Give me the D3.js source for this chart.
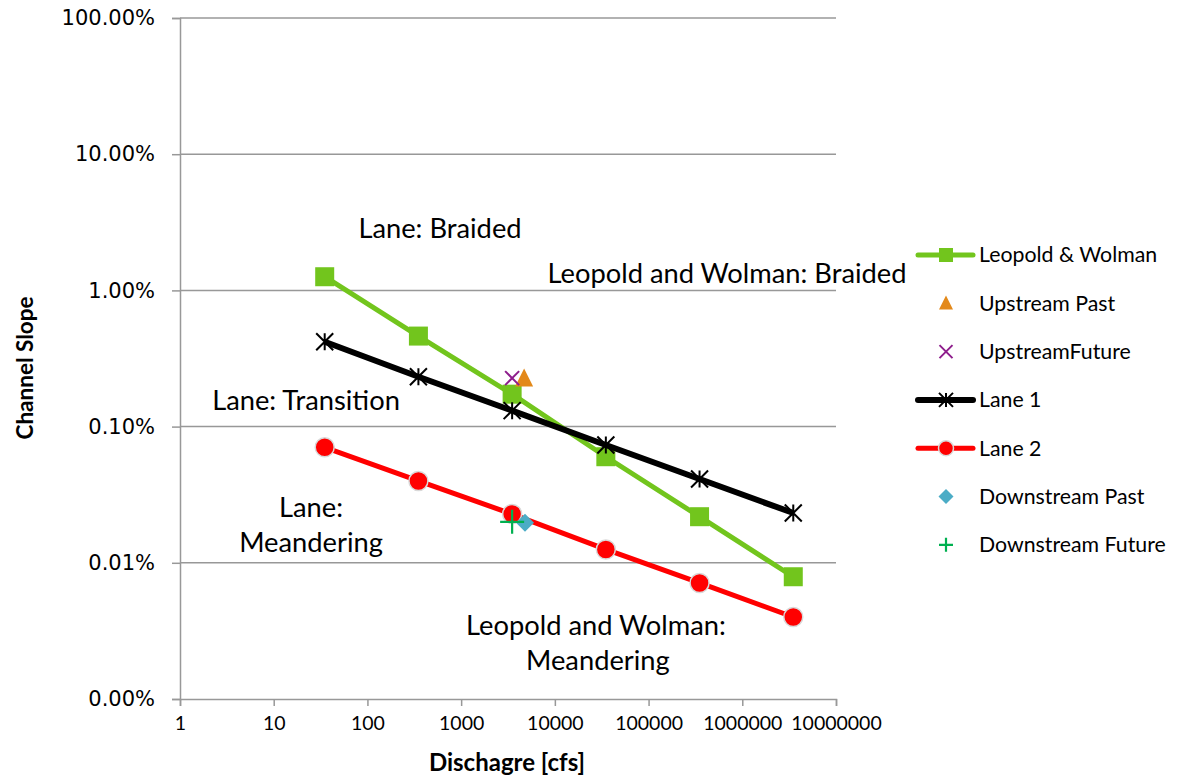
<!DOCTYPE html>
<html>
<head>
<meta charset="utf-8">
<script src="https://cdn.jsdelivr.net/npm/d3@7"></script>
<style>
  html, body { margin: 0; padding: 0; background: #fff; }
  svg { display: block; }
  text { font-family: Lato, "Open Sans", sans-serif; fill: #000; }
</style>
</head>
<body>
<svg id="chart" width="1199" height="778"></svg>
<script>
// Discharge (cfs) shared by the three reference curves
const discharge = [35, 350, 3500, 35000, 350000, 3500000];
// Channel slope (fraction) for each curve
const leopoldWolman = [0.0126, 0.00462, 0.00173, 0.000601, 0.000218, 0.000079];
const lane1 = [0.0042, 0.002325, 0.00131, 0.000733, 0.000412, 0.000232];
const lane2 = [0.000705, 0.000399, 0.000228, 0.0001253, 0.0000711, 0.00004];
// Single observations: [discharge, slope]
const upstreamPast = [[4700, 0.00226]];
const upstreamFuture = [[3500, 0.00227]];
const downstreamPast = [[4800, 0.000197]];
const downstreamFuture = [[3500, 0.000200]];
// Axis ticks
const xTicks = [1, 10, 100, 1000, 10000, 100000, 1000000, 10000000];
const yTicks = [0.00001, 0.0001, 0.001, 0.01, 0.1, 1];
// Legend entries
const legendNames = ["Leopold & Wolman", "Upstream Past", "UpstreamFuture", "Lane 1", "Lane 2", "Downstream Past", "Downstream Future"];

const svg = d3.select("#chart");
const plot = { left: 180, right: 836, top: 18, bottom: 699 };

const x = d3.scaleLog().domain([1, 10000000]).range([plot.left, plot.right]);
const y = d3.scaleLog().domain([0.00001, 1]).range([plot.bottom, plot.top]);

const gridColor = "#989898";

// Horizontal gridlines
svg.append("g").selectAll("line").data(yTicks.slice(1)).join("line")
  .attr("x1", plot.left).attr("x2", plot.right)
  .attr("y1", d => y(d)).attr("y2", d => y(d))
  .attr("stroke", gridColor).attr("stroke-width", 1.5);

// Axes
const xAxis = svg.append("g")
  .attr("transform", `translate(0,${plot.bottom})`)
  .call(d3.axisBottom(x).tickValues(xTicks).tickFormat(d3.format("d")).tickSizeOuter(0).tickSize(7).tickPadding(10));
const yAxis = svg.append("g")
  .attr("transform", `translate(${plot.left},0)`)
  .call(d3.axisLeft(y).tickValues(yTicks).tickFormat(d3.format(".2%")).tickSizeOuter(0).tickSize(8).tickPadding(17));
[xAxis, yAxis].forEach(g => {
  g.select(".domain").attr("stroke", gridColor).attr("stroke-width", 1.5);
  g.selectAll(".tick line").attr("stroke", gridColor).attr("stroke-width", 1.5);
});
xAxis.selectAll(".tick text").style("font-family", "Lato").style("font-size", "19.5px").attr("fill", "#000");
yAxis.selectAll(".tick text").style("font-family", "'DejaVu Sans'").style("font-size", "21px").attr("fill", "#000");

// Axis titles
svg.append("text").attr("x", 507).attr("y", 771).attr("text-anchor", "middle")
  .style("font-weight", "bold").style("font-size", "24px").text("Dischagre [cfs]");
svg.append("text").attr("transform", "translate(33,368) rotate(-90)").attr("text-anchor", "middle")
  .style("font-weight", "bold").style("font-size", "22.5px").text("Channel Slope");

// Marker shapes
const markers = {
  square: (g, s, c) => g.append("rect").attr("x", -s / 2).attr("y", -s / 2).attr("width", s).attr("height", s).attr("fill", c),
  triangle: (g, s, c) => g.append("path").attr("d", `M0,${-s * 0.55}L${s / 2},${s * 0.45}L${-s / 2},${s * 0.45}Z`).attr("fill", c),
  cross: (g, s, c) => g.append("path").attr("d", `M${-s / 2},${-s / 2}L${s / 2},${s / 2}M${s / 2},${-s / 2}L${-s / 2},${s / 2}`).attr("stroke", c).attr("stroke-width", 2).attr("fill", "none"),
  star: (g, s, c) => g.append("path").attr("d", `M${-s / 2},${-s / 2}L${s / 2},${s / 2}M${s / 2},${-s / 2}L${-s / 2},${s / 2}M0,${-s / 2}L0,${s / 2}`).attr("stroke", c).attr("stroke-width", 2).attr("fill", "none"),
  circle: (g, s, c) => g.append("circle").attr("r", s / 2).attr("fill", c).attr("stroke", "#d9d9d9").attr("stroke-width", 1.5),
  diamond: (g, s, c) => g.append("path").attr("d", `M0,${-s / 2}L${s / 2},0L0,${s / 2}L${-s / 2},0Z`).attr("fill", c),
  plus: (g, s, c) => g.append("path").attr("d", `M${-s / 2},0L${s / 2},0M0,${-s / 2}L0,${s / 2}`).attr("stroke", c).attr("stroke-width", 2.2).attr("fill", "none")
};

const series = [
  { name: legendNames[0], pts: discharge.map((d, i) => [d, leopoldWolman[i]]), line: true, color: "#72C51D", width: 5, marker: "square", size: 19, legendSize: 14 },
  { name: legendNames[1], pts: upstreamPast, line: false, color: "#E3891A", marker: "triangle", size: 18, legendSize: 14 },
  { name: legendNames[2], pts: upstreamFuture, line: false, color: "#8E1E8C", marker: "cross", size: 14, legendSize: 13 },
  { name: legendNames[3], pts: discharge.map((d, i) => [d, lane1[i]]), line: true, color: "#000000", width: 6, marker: "star", size: 17, legendSize: 14 },
  { name: legendNames[4], pts: discharge.map((d, i) => [d, lane2[i]]), line: true, color: "#FF0000", width: 5, marker: "circle", size: 19, legendSize: 15 },
  { name: legendNames[5], pts: downstreamPast, line: false, color: "#4BACC6", marker: "diamond", size: 18, legendSize: 15 },
  { name: legendNames[6], pts: downstreamFuture, line: false, color: "#00B050", marker: "plus", size: 24, legendSize: 14 }
];

const lineGen = d3.line().x(d => x(d[0])).y(d => y(d[1]));

series.forEach(s => {
  const g = svg.append("g");
  if (s.line) {
    g.append("path").attr("d", lineGen(s.pts)).attr("fill", "none")
      .attr("stroke", s.color).attr("stroke-width", s.width).attr("stroke-linejoin", "round");
  }
  s.pts.forEach(p => {
    const m = g.append("g").attr("transform", `translate(${x(p[0])},${y(p[1])})`);
    markers[s.marker](m, s.size, s.color);
  });
});

// Regime annotations: each line is [text, x, baseline y, anchor]
const notes = [
  [["Lane: Braided", 440, 238, "middle"]],
  [["Leopold and Wolman: Braided", 727, 283, "middle"]],
  [["Lane: Transition", 306, 410, "middle"]],
  [["Lane:", 311, 517, "middle"], ["Meandering", 311, 552, "middle"]],
  [["Leopold and Wolman:", 466, 635, "start"], ["Meandering", 526, 670, "start"]]
];
notes.forEach(n => {
  const t = svg.append("text").style("font-size", "27.3px");
  n.forEach(([l, lx, ly, anchor]) => t.append("tspan")
    .attr("x", lx).attr("y", ly).attr("text-anchor", anchor).text(l));
});

// Legend
const legend = svg.append("g");
series.forEach((s, i) => {
  const cy = 255 + i * 48.3;
  const g = legend.append("g").attr("transform", `translate(0,${cy})`);
  if (s.line) {
    g.append("line").attr("x1", 918).attr("x2", 973).attr("y1", 0).attr("y2", 0)
      .attr("stroke", s.color).attr("stroke-width", s.width).attr("stroke-linecap", "round");
  }
  const m = g.append("g").attr("transform", "translate(946,0)");
  markers[s.marker](m, s.legendSize, s.color);
  g.append("text").attr("x", 979).attr("y", 0).attr("dy", "0.35em").style("font-size", "21.3px").text(s.name);
});
</script>
</body>
</html>
